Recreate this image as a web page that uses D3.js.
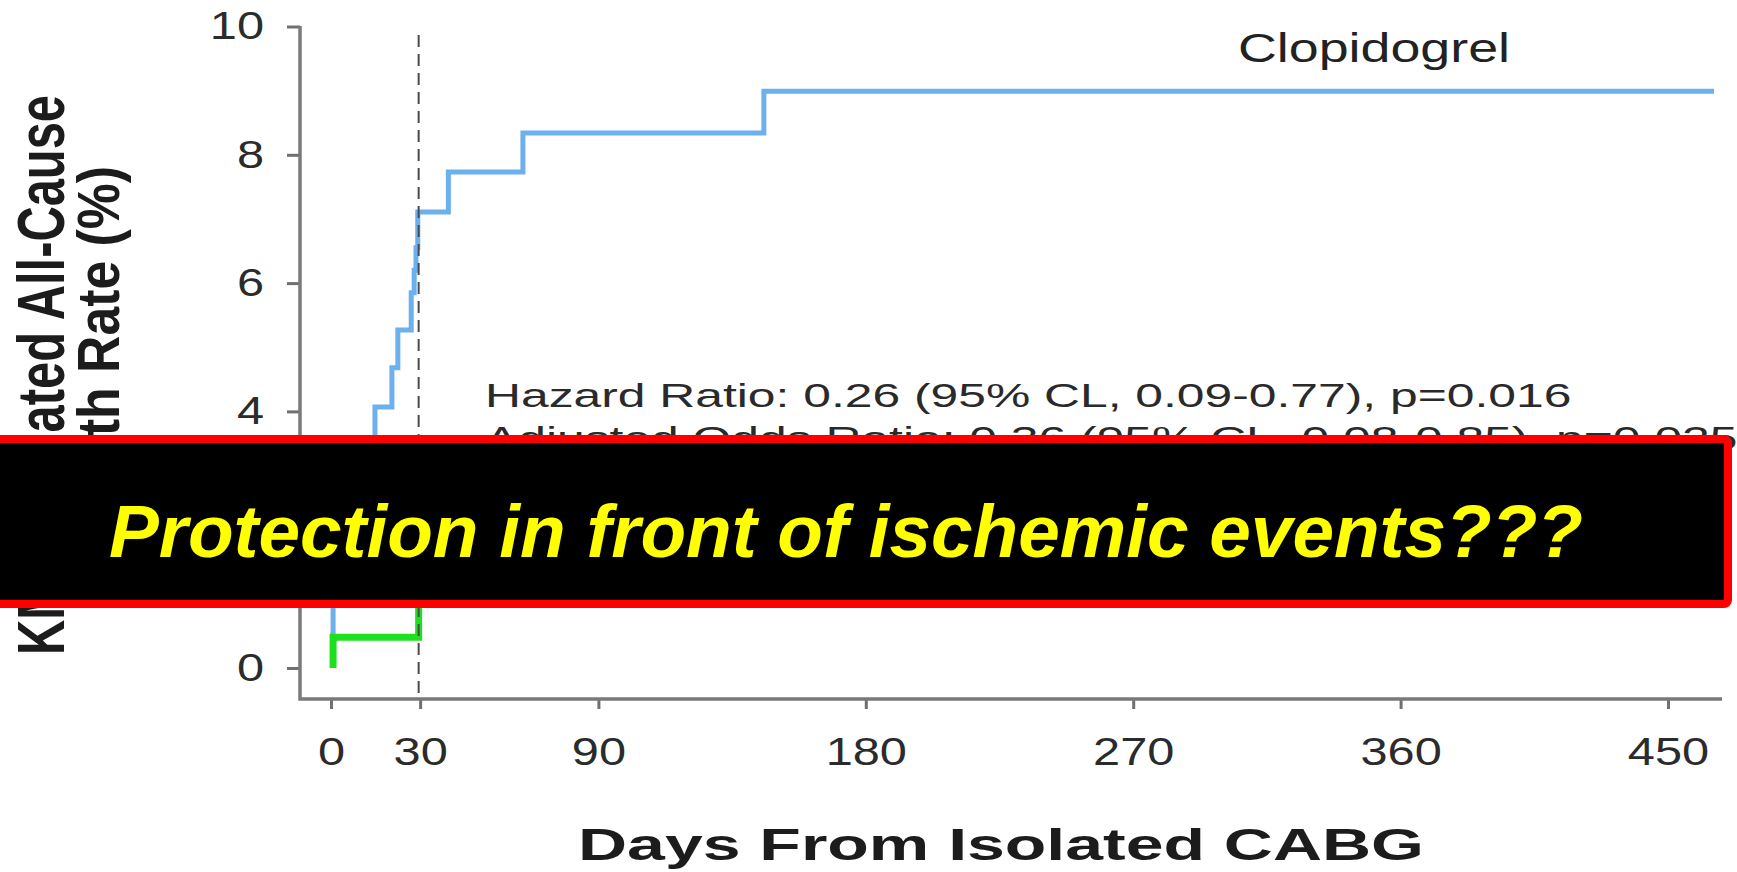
<!DOCTYPE html>
<html>
<head>
<meta charset="utf-8">
<script src="https://cdn.jsdelivr.net/npm/d3@7"></script>
<style>
  body { margin: 0; background: #fff; }
  svg text { font-family: "Liberation Sans", Arial, sans-serif; }
</style>
</head>
<body>
<div id="chart"></div>
<script>
// tick values
const xTicks = [0, 30, 90, 180, 270, 360, 450];
const yTicks = [0, 2, 4, 6, 8, 10];

// Clopidogrel KM curve (days, %)
const clopDays = [0.7, 0.7, 3, 6, 9, 12, 14.8, 20.5, 22.5, 27, 28, 28.6, 29.2, 39.5, 64.6, 145.7, 465.5];
const clopRate = [0, 1.2, 1.8, 2.4, 3.0, 3.5, 4.07, 4.68, 5.27, 5.85, 6.2, 6.55, 7.11, 7.73, 8.34, 8.99, 8.99];

// other arm (mostly hidden behind the banner)
const ticaDays = [0.7, 0.7, 29.5, 60, 150, 465.5];
const ticaRate = [0, 0.48, 1.5, 1.8, 2.1, 2.1];

const w = 1737;
const h = 872;

const xScale = d3.scaleLinear().domain([0, 450]).range([331, 1668]);
const yScale = d3.scaleLinear().domain([0, 10]).range([668, 26.5]);

const svg = d3.select("#chart")
  .append("svg")
  .attr("width", w)
  .attr("height", h);

svg.append("rect").attr("width", w).attr("height", h).attr("fill", "#fff");

// axes
const xAxis = d3.axisBottom(xScale).tickValues(xTicks).tickSize(10).tickPadding(28);
const yAxis = d3.axisLeft(yScale).tickValues(yTicks).tickSize(13).tickPadding(23);

const gx = svg.append("g").attr("transform", "translate(0,699)").call(xAxis);
const gy = svg.append("g").attr("transform", "translate(300,0)").call(yAxis);

[gx, gy].forEach(g => {
  g.select(".domain").remove();
  g.selectAll(".tick line").attr("stroke", "#707070").attr("stroke-width", 3);
  g.selectAll(".tick text")
    .attr("fill", "#2b2b2b")
    .style("font-size", "39px");
});
gx.selectAll(".tick text").attr("transform", "scale(1.25,1)");
gy.selectAll(".tick text").attr("x", 0).attr("transform", "translate(-36,0) scale(1.25,1)");

// L-shaped frame
svg.append("path")
  .attr("d", "M300,26 L300,699 L1722,699")
  .attr("fill", "none")
  .attr("stroke", "#7a7a7a")
  .attr("stroke-width", 3.5);

// curves
const line = d3.line()
  .x(d => xScale(d[0]))
  .y(d => yScale(d[1]))
  .curve(d3.curveStepAfter);

svg.append("path")
  .datum(clopDays.map((d, i) => [d, clopRate[i]]))
  .attr("fill", "none")
  .attr("stroke", "#6cb0ee")
  .attr("stroke-width", 5)
  .attr("d", line);

svg.append("path")
  .datum(ticaDays.map((d, i) => [d, ticaRate[i]]))
  .attr("fill", "none")
  .attr("stroke", "#1fe01f")
  .attr("stroke-width", 7)
  .attr("d", line);

// 30 day landmark
svg.append("line")
  .attr("x1", xScale(29.5)).attr("x2", xScale(29.5))
  .attr("y1", 35).attr("y2", 699)
  .attr("stroke", "#4a4a4a")
  .attr("stroke-width", 2)
  .attr("stroke-dasharray", "12,7");

// labels
svg.append("text")
  .attr("x", 1238).attr("y", 62)
  .attr("textLength", 272).attr("lengthAdjust", "spacingAndGlyphs")
  .attr("fill", "#222")
  .style("font-size", "40px")
  .text("Clopidogrel");

const stats = ["Hazard Ratio: 0.26 (95% CL, 0.09-0.77), p=0.016",
               "Adjusted Odds Ratio: 0.36 (95% CL, 0.08-0.85), p=0.025"];
const st = svg.selectAll(".stat")
  .data(stats)
  .enter()
  .append("text")
  .attr("class", "stat")
  .attr("y", (d, i) => 407 + i * 43)
  .attr("fill", "#2a2a2a")
  .style("font-size", "34px")
  .text(d => d);
const natural = st.nodes()[0].getComputedTextLength();
const sx = 1087 / natural;
st.attr("x", 485 / sx).attr("transform", "scale(" + sx + ",1)");

// x title
svg.append("text")
  .attr("x", 1001).attr("y", 860)
  .attr("text-anchor", "middle")
  .attr("textLength", 846).attr("lengthAdjust", "spacingAndGlyphs")
  .attr("fill", "#1c1c1c")
  .style("font-size", "45px")
  .style("font-weight", "bold")
  .text("Days From Isolated CABG");

// y title, two lines
svg.append("text")
  .attr("transform", "translate(64,375) scale(1.34,1) rotate(-90)")
  .attr("text-anchor", "middle")
  .attr("textLength", 560).attr("lengthAdjust", "spacingAndGlyphs")
  .attr("fill", "#1c1c1c")
  .style("font-size", "50px")
  .style("font-weight", "bold")
  .text("KM Estimated All-Cause");

svg.append("text")
  .attr("transform", "translate(119,166) scale(1.2,1) rotate(-90)")
  .attr("text-anchor", "end")
  .attr("textLength", 365).attr("lengthAdjust", "spacingAndGlyphs")
  .attr("fill", "#1c1c1c")
  .style("font-size", "50px")
  .style("font-weight", "bold")
  .text("Death Rate (%)");

// banner
svg.append("rect")
  .attr("x", -20).attr("y", 439)
  .attr("width", 1748).attr("height", 165)
  .attr("rx", 4)
  .attr("fill", "#000")
  .attr("stroke", "#ff0000")
  .attr("stroke-width", 8);

svg.append("text")
  .attr("x", 109).attr("y", 557)
  .attr("textLength", 1474).attr("lengthAdjust", "spacingAndGlyphs")
  .attr("fill", "#ffff00")
  .style("font-size", "75px")
  .style("font-weight", "bold")
  .style("font-style", "italic")
  .text("Protection in front of ischemic events???");
</script>
</body>
</html>
